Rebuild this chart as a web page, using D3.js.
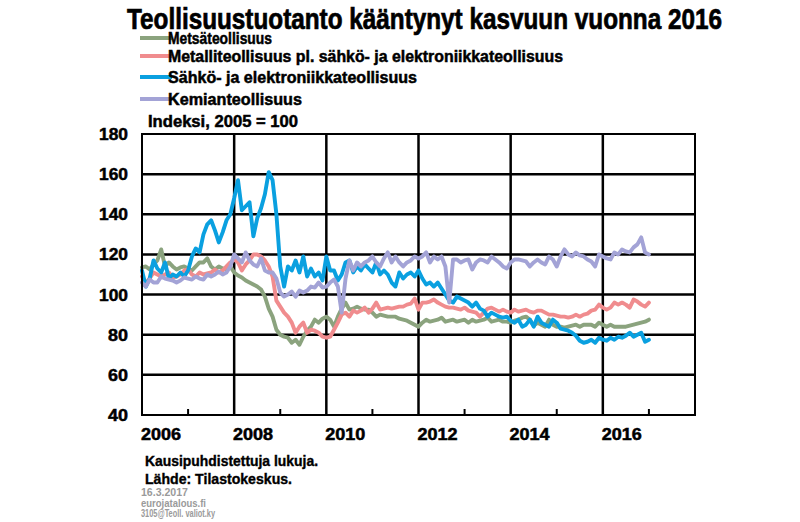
<!DOCTYPE html>
<html><head><meta charset="utf-8">
<script src="https://cdn.jsdelivr.net/npm/d3@7"></script>
<style>
html,body{margin:0;padding:0;background:#fff;}
svg{display:block;font-family:"Liberation Sans",Arial,sans-serif;}
</style></head>
<body><svg id="c" width="800" height="522"></svg>
<script>
// ---- data (monthly, Jan 2006 .. Jan 2017), index 2005 = 100 ----
const startYear = 2006;
const seriesNames = ["Metsäteollisuus","Metalliteollisuus pl. sähkö- ja elektroniikkateollisuus","Sähkö- ja elektroniikkateollisuus","Kemianteollisuus"];
const seriesColors = ["#8ba37e","#f08c8e","#0aa0e0","#a3a3d6"];
const metsa = [113.5,114,112.5,115,117,122.5,114,116,114,112.5,113.5,114,
113,112,114,116,116,118,114,112.5,114,113,112.5,114,
111,109.5,108.5,107,106,105,104,102.5,99,93,89,82.5,
80,79,78.5,76,77.5,75,79,82,84,87.5,86,88,
89,87.5,84,89,93,96,92.5,93,94,93,92.5,92.5,
91,89,90,89.5,89,89,89,88,87.5,87,86,85,
84,86,87.5,86.5,87,87.5,88.5,86.5,87,87.5,86.5,87,
87.5,86,87.5,86.5,87,87.5,88.5,86.5,87,87.5,86.5,86.5,
86,87,87.5,88.5,89,87.5,84.5,86,85,84,87.5,85,
84,84,83.5,84,84.5,85,84,85,85,85,84,86,
85,84,85,84,84,84,84,84.5,85,85.5,86,86.5,87.5];
const metalli = [109,106,108,111,110,109,110,111,108.5,109,110,112,
112.5,110,109,111,110,110.5,111,112.5,111,112,114,116,
117.5,116,112,115,117,120,120,119,117,114,109,97,
94,91,89,86,81,84,86,81,82.5,82,81,79,
78.5,79,82.5,86,90,91,89,92,91,92,93.5,91,
93,96,92.5,93,93.5,93,93.5,94,94,95,95.5,98,
92.5,96,96,96.5,97.5,96,95,94,93.5,93.5,93,92.5,
93.5,92,91.5,91,89,91,93,93.5,92.5,91.5,92.5,91.5,
91,92.5,91.5,92,92.5,91.5,91,92,92,91,90,90,
89.5,89,89,88.5,89,90,89,90,90.5,92,92.5,95,
93.5,92.5,93.5,96,95,96,95,93.5,97.5,96.5,95,94,96];
const sahko = [112,104,108,117,113,111,116,108,110,109,111,109,
112,119,123,121,130,135,137,132,126,131,137,140,
148,157,142,144,146,129,138,143,150,161,157,140,
114,104,114,112,117,111,119,109,113,109,111,107,
119,112,112,107,110,116,117,111,114,112,115,113,
111,116,110,112,110,106,104,111,108,110,111,109,
112,108,105,106,104,106,103,100,97,96,99,98,
97,96,94,96,93,92,89,91,90,89,88.5,89,
87,86,87.5,84,85,87.5,84,89,86,85,84,87.5,
86,83,82.5,82,81,79.5,77,76,76.5,77.5,76,78.5,
77.5,77,78.5,77.5,79,78.5,79.5,81,79,80,81,76.5,77.5];
const kemia = [106,104,107.5,106,106,109,108,107.5,107,106,107,108.5,
108,107.5,109,108,107.5,110,109,110,111.5,110,111,114,
120,118,116,121,117,115,114,118,112,111,111,108,
101,99,100,101.5,99,102,101,102,104,103.5,106,103.5,
104,106,107.5,104,91,108,117,112,116,114,116,117,
119,116,114,118,121,116,119,116,114,116,117,119,
118,119,121,116,119,117.5,119,114,96,117.5,117.5,116,
117,117.5,112.5,116,117.5,117,116,119,117.5,116,114,113,
116,117.5,117.5,117,116.5,114,116,117.5,116,115,119,117.5,
114,119,122.5,120,119,121,119.5,119,117.5,116.5,114,120,
119,118,117.5,121,120,122.5,121.5,121,123.5,125,128.5,121,120];
const yTicks = [40,60,80,100,120,140,160,180];
const xLabelYears = [2006,2008,2010,2012,2014,2016];
const gridYears = [2008,2010,2012,2014,2016];
const minorYears = [2007,2009,2011,2013,2015,2017];
const titleText = "Teollisuustuotanto kääntynyt kasvuun vuonna 2016";
const unitText = "Indeksi, 2005 = 100";
const footLines = ["Kausipuhdistettuja lukuja.","Lähde: Tilastokeskus."];
const smallLines = ["16.3.2017","eurojatalous.fi","3105@Teoll. valiot.ky"];

// ---- drawing ----
const svg = d3.select("#c");
const L = 142, R = 695, T = 134, B = 415;
const x = d3.scaleLinear().domain([2006, 2018]).range([L, R]);
const y = d3.scaleLinear().domain([40, 180]).range([B, T]);

function heavy(sel, sw) {
  return sel.attr("fill", "#000").attr("stroke", "#000").attr("stroke-width", sw)
    .attr("font-weight", "bold").attr("font-family", "Liberation Sans, Arial, sans-serif");
}

// gridlines
svg.append("g").selectAll("line").data(yTicks.filter(v => v > 40 && v < 180)).join("line")
  .attr("x1", L).attr("x2", R).attr("y1", d => y(d)).attr("y2", d => y(d))
  .attr("stroke", "#000").attr("stroke-width", 2.5);
svg.append("g").selectAll("line").data(gridYears).join("line")
  .attr("x1", d => x(d)).attr("x2", d => x(d)).attr("y1", T).attr("y2", B)
  .attr("stroke", "#000").attr("stroke-width", 2.5);
svg.append("g").selectAll("line").data(minorYears).join("line")
  .attr("x1", d => x(d)).attr("x2", d => x(d)).attr("y1", B).attr("y2", B - 6)
  .attr("stroke", "#000").attr("stroke-width", 2);

// series
const allSeries = [metsa, metalli, sahko, kemia];
const line = d3.line().x((d, i) => x(startYear + i / 12)).y(d => y(d));
allSeries.forEach((s, k) => {
  svg.append("path").datum(s).attr("d", line)
    .attr("fill", "none").attr("stroke", seriesColors[k])
    .attr("stroke-width", 3.9).attr("stroke-linejoin", "round").attr("stroke-linecap", "round");
});

// frame
svg.append("rect").attr("x", L).attr("y", T).attr("width", R - L).attr("height", B - T)
  .attr("fill", "none").attr("stroke", "#000").attr("stroke-width", 2);

// y axis
const ya = svg.append("g").attr("transform", `translate(${L},0)`)
  .call(d3.axisLeft(y).tickValues(yTicks).tickSize(0).tickPadding(14).tickFormat(d3.format("d")));
ya.select(".domain").remove();
heavy(ya.selectAll("text"), 0.5).attr("font-size", 17)
  .attr("textLength", 29).attr("lengthAdjust","spacingAndGlyphs");
ya.selectAll(".tick").filter(d => d < 100).selectAll("text").attr("textLength", 20);

// x axis (labels centred within the year)
const xa = svg.append("g").attr("transform", `translate(0,${B})`)
  .call(d3.axisBottom(x).tickValues(xLabelYears.map(v => v + 0.4)).tickSize(0).tickPadding(14)
    .tickFormat(d => String(Math.floor(d))));
xa.select(".domain").remove();
heavy(xa.selectAll("text"), 0.5).attr("font-size", 16)
  .attr("textLength", 40).attr("lengthAdjust","spacingAndGlyphs");

// title
heavy(svg.append("text").attr("x", 127).attr("y", 29).text(titleText), 0.7)
  .attr("font-size", 29).attr("textLength", 595).attr("lengthAdjust", "spacingAndGlyphs");

// legend
const legY = [38, 56, 77, 99];
const legW = [104, 395, 249, 134];
seriesNames.forEach((n, k) => {
  svg.append("line").attr("x1", 140).attr("x2", 172).attr("y1", legY[k]).attr("y2", legY[k])
    .attr("stroke", seriesColors[k]).attr("stroke-width", 4);
  heavy(svg.append("text").attr("x", 168).attr("y", legY[k] + 6).text(n), 0.5)
    .attr("font-size", 16.5).attr("textLength", legW[k]).attr("lengthAdjust", "spacingAndGlyphs");
});
heavy(svg.append("text").attr("x", 148).attr("y", 127).text(unitText), 0.5)
  .attr("font-size", 16.5).attr("textLength", 150).attr("lengthAdjust", "spacingAndGlyphs");

// footer
const footY = [466, 484], footW = [173, 147];
footLines.forEach((t, k) => heavy(svg.append("text").attr("x", 145).attr("y", footY[k]).text(t), 0.4)
  .attr("font-size", 15.5).attr("textLength", footW[k]).attr("lengthAdjust", "spacingAndGlyphs"));
const smallY = [496, 507, 517], smallW = [47, 65, 74];
smallLines.forEach((t, k) => svg.append("text").attr("x", 141).attr("y", smallY[k]).text(t)
  .attr("font-size", 10).attr("font-weight", "bold").attr("fill", "#9a9a9a")
  .attr("textLength", smallW[k]).attr("lengthAdjust", "spacingAndGlyphs"));
</script></body></html>
